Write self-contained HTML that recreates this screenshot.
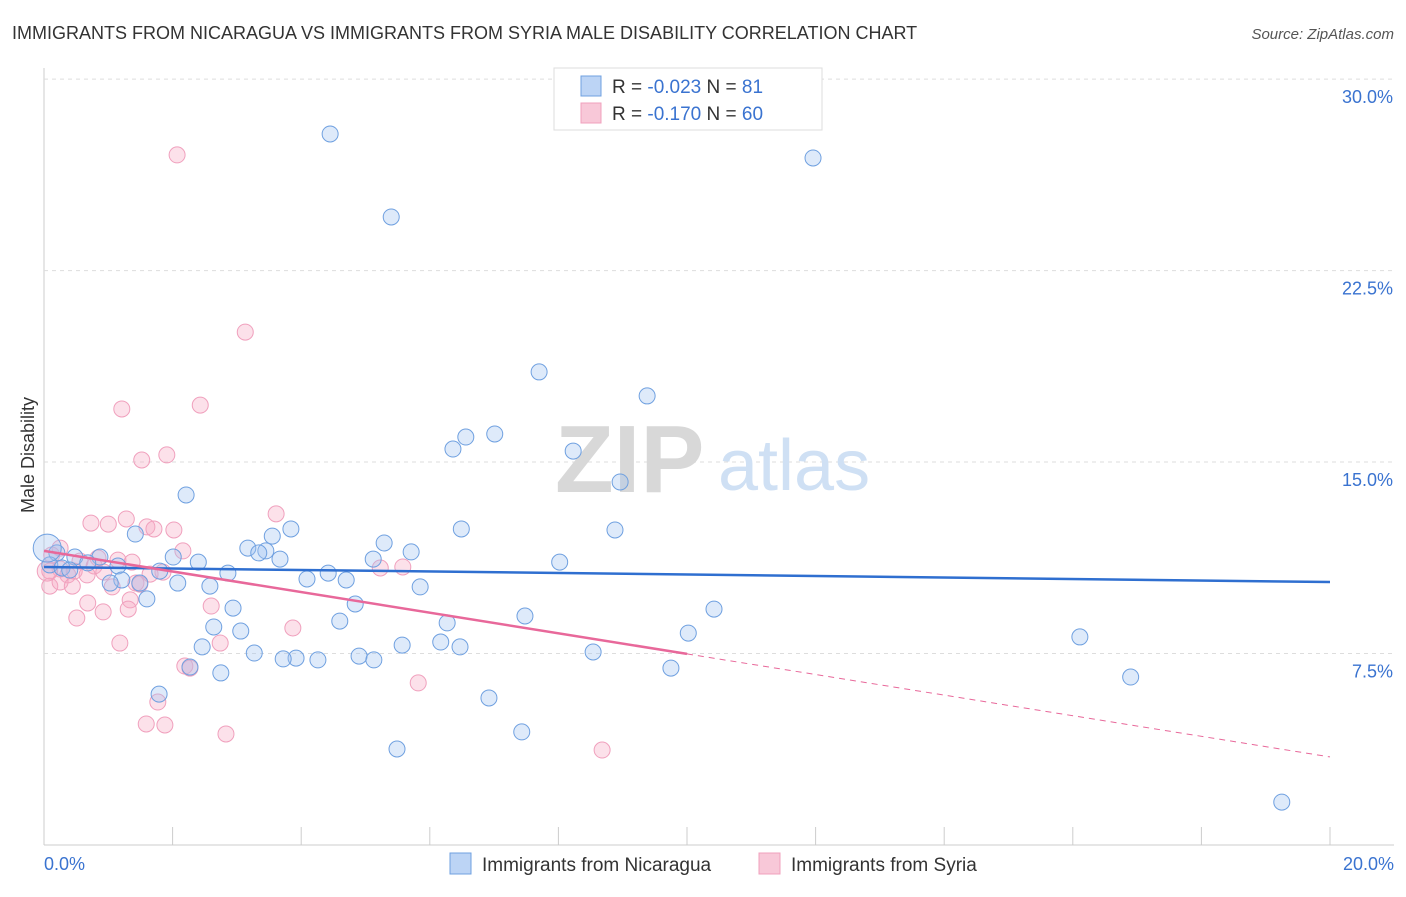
<!DOCTYPE html>
<html><head><meta charset="utf-8">
<style>
body{margin:0;background:#fff;font-family:"Liberation Sans",sans-serif;}
svg text{font-family:"Liberation Sans",sans-serif;}
</style></head>
<body>
<svg id="chart" width="1406" height="892" viewBox="0 0 1406 892" xmlns="http://www.w3.org/2000/svg">
<text x="12" y="39" font-size="18" fill="#333">IMMIGRANTS FROM NICARAGUA VS IMMIGRANTS FROM SYRIA MALE DISABILITY CORRELATION CHART</text>
<text x="1394" y="39" font-size="15" fill="#555" text-anchor="end" font-style="italic">Source: ZipAtlas.com</text>
<g id="grid"></g>
<g>
<text x="555" y="492" font-size="96" fill="#d8d8d8" font-family="Liberation Serif" font-weight="bold">ZIP</text>
<text x="718" y="490" font-size="72" fill="#cfe0f4">atlas</text>
</g>
<text transform="translate(34,455) rotate(-90)" font-size="18" fill="#333" text-anchor="middle">Male Disability</text>
<g id="points"></g>
<g id="trends"></g>
<g>
<rect x="554" y="68" width="268" height="62" fill="#fff" stroke="#ddd"/>
<rect x="581" y="76" width="20" height="20" fill="#bcd4f5" stroke="#6fa0e0"/>
<text x="612" y="93" font-size="19" fill="#333">R = <tspan fill="#3a73d0">-0.023</tspan>   N = <tspan fill="#3a73d0"> 81</tspan></text>
<rect x="581" y="103" width="20" height="20" fill="#f8c8d8" stroke="#f0a0bd"/>
<text x="612" y="120" font-size="19" fill="#333">R =  <tspan fill="#3a73d0">-0.170</tspan>   N = <tspan fill="#3a73d0">60</tspan></text>
</g>
<g>
<rect x="450" y="853" width="21" height="21" fill="#bcd4f5" stroke="#6fa0e0"/>
<text x="482" y="871" font-size="19" fill="#333">Immigrants from Nicaragua</text>
<rect x="759" y="853" width="21" height="21" fill="#f8c8d8" stroke="#f0a0bd"/>
<text x="791" y="871" font-size="19" fill="#333">Immigrants from Syria</text>
</g>
</svg>
<script>
const yTicks=[7.5,15,22.5,30];
const yTickLabels=["7.5%","15.0%","22.5%","30.0%"];
const xTickLabels=["0.0%","20.0%"];
const nicX=[4.45,11.96,5.40,7.70,9.38,6.56,7.01,6.36,8.23,8.96,2.21,6.49,8.88,3.84,1.42,3.55,5.29,3.17,3.45,3.34,5.71,3.67,5.12,8.02,2.40,2.01,0.20,0.48,0.87,0.68,1.15,0.09,0.28,0.40,1.80,2.86,4.42,4.09,4.70,5.85,2.58,1.21,1.49,1.03,2.08,1.60,2.94,4.84,7.48,10.42,4.60,6.27,2.64,3.06,10.02,16.11,6.17,2.46,5.57,6.47,3.27,4.90,5.13,3.92,3.72,4.26,8.54,9.75,2.75,2.27,16.90,1.79,6.92,7.43,5.49,19.25,0.05];
const nicY=[27.85,26.91,24.60,18.53,17.59,15.98,16.10,15.51,15.43,14.22,13.71,12.38,12.34,12.38,12.18,12.10,11.83,11.63,11.52,11.44,11.48,11.20,11.20,11.08,11.08,11.28,11.44,11.28,11.28,11.05,10.93,10.97,10.85,10.77,10.73,10.65,10.65,10.42,10.38,10.11,10.14,10.38,10.26,10.26,10.26,9.64,9.28,9.44,8.97,9.24,8.77,8.70,8.54,8.38,8.30,8.15,7.95,7.76,7.83,7.76,7.52,7.40,7.25,7.32,7.29,7.25,7.56,6.93,6.74,6.97,6.58,5.91,5.76,4.43,3.76,1.68,11.63];
const syrX=[2.07,3.13,2.43,1.21,1.91,1.52,3.61,1.28,0.73,1.00,1.60,2.02,1.71,0.25,2.16,0.12,0.84,1.15,1.37,0.56,0.78,0.25,0.37,0.09,0.47,0.67,0.93,1.65,1.85,5.58,5.23,1.43,1.06,0.09,0.25,0.44,1.49,1.34,0.68,2.60,0.92,1.31,0.51,3.87,1.18,2.74,2.19,2.27,5.82,1.77,1.59,1.88,2.83,8.68,0.05];
const syrY=[27.03,20.09,17.23,17.08,15.28,15.08,12.97,12.77,12.61,12.57,12.46,12.34,12.38,11.63,11.52,11.36,11.24,11.16,11.08,11.12,10.93,10.81,10.58,10.73,10.73,10.58,10.69,10.61,10.69,10.89,10.85,10.26,10.11,10.14,10.30,10.14,10.22,9.60,9.48,9.36,9.13,9.24,8.89,8.50,7.91,7.91,7.01,6.93,6.35,5.60,4.74,4.70,4.35,3.72,10.73];
const nicTrend=[10.89,10.30];
const syrTrend=[11.52,3.45];
const NS="http://www.w3.org/2000/svg";
const xs=v=>44+v*64.3;
const ys=v=>845-v*25.53;
function mk(tag,attrs,parent){const e=document.createElementNS(NS,tag);for(const k in attrs)e.setAttribute(k,attrs[k]);parent.appendChild(e);return e;}
const grid=document.getElementById('grid');
const ax=mk('line',{x1:44,y1:68,x2:44,y2:845,stroke:'#ccc'},grid);


const bx=mk('line',{x1:44,y1:845,x2:1394,y2:845,stroke:'#ccc'},grid);


yTicks.forEach((t,i)=>{
 const g=mk('line',{x1:44,x2:1394,y1:ys(t),y2:ys(t),stroke:'#ddd','stroke-dasharray':'4,4'},grid);
 
 
 const l=mk('text',{x:1393,y:ys(t)+24,'font-size':18,fill:'#3a73d0','text-anchor':'end'},grid);
 l.textContent=yTickLabels[i];
 
 
});
for(let i=1;i<=10;i++){
 const t=mk('line',{x1:xs(i*2),x2:xs(i*2),y1:827,y2:845,stroke:'#ccc'},grid);
 
 
}
[[0,'start',44],[20,'end',1394]].forEach((d,i)=>{
 const l=mk('text',{x:d[2],y:870,'font-size':18,fill:'#3a73d0','text-anchor':d[1]},grid);
 l.textContent=xTickLabels[i];
 
 
});
const pts=document.getElementById('points');
syrX.forEach((x,i)=>{
 const c=mk('circle',{cx:xs(x),cy:ys(syrY[i]),r:i===syrX.length-1?10:8,fill:'rgba(245,170,195,0.35)',stroke:'#f0a0bd','stroke-width':1},pts);
 
 
});
nicX.forEach((x,i)=>{
 const c=mk('circle',{cx:xs(x),cy:ys(nicY[i]),r:i===nicX.length-1?14:8,fill:'rgba(160,195,240,0.35)',stroke:'#6fa0e0','stroke-width':1},pts);
 
 
});
const tr=document.getElementById('trends');
const b=mk('line',{x1:xs(0),y1:ys(nicTrend[0]),x2:xs(20),y2:ys(nicTrend[1]),stroke:'#2f6fd0','stroke-width':2.5},tr);


const mid=syrTrend[0]+(syrTrend[1]-syrTrend[0])*0.5;
const p1=mk('line',{x1:xs(0),y1:ys(syrTrend[0]),x2:xs(10),y2:ys(mid),stroke:'#e8689a','stroke-width':2.5},tr);


const p2=mk('line',{x1:xs(10),y1:ys(mid),x2:xs(20),y2:ys(syrTrend[1]),stroke:'#e8689a','stroke-width':1,'stroke-dasharray':'6,5'},tr);


</script>
</body></html>
